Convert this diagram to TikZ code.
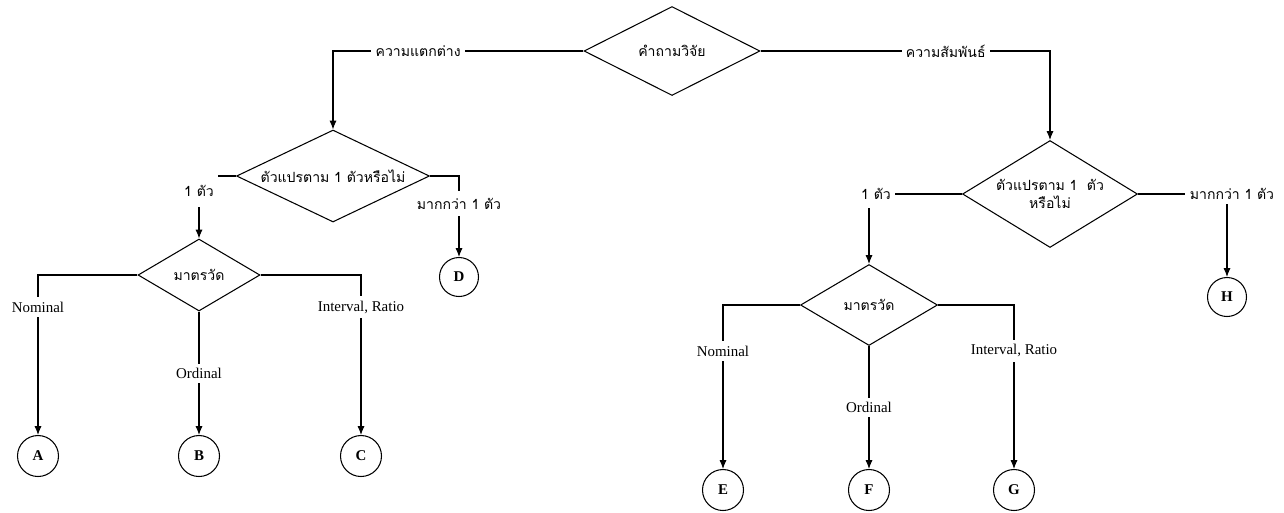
\documentclass[tikz,border=0pt]{standalone}
\usepackage{fontspec}
\setmainfont{Liberation Serif}
\newfontfamily\thaifont[Script=Thai]{Loma}
\usetikzlibrary{shapes.geometric,arrows.meta,positioning}

\begin{document}
\begin{tikzpicture}[
    x=0.02cm, y=-0.02cm,
    font=\fontsize{8.5}{10}\selectfont,
    decision/.style={draw, diamond, aspect=2.1, inner sep=0pt, line width=0.6pt, align=center,
        font=\thaifont\fontsize{8}{10}\selectfont},
    endpt/.style={draw, circle, minimum size=0.82cm, inner sep=0pt, line width=0.6pt,
        font=\bfseries\fontsize{8.5}{10}\selectfont},
    flow/.style={-{Latex[length=5pt,width=4pt]}, line width=0.6pt},
    lbl/.style={fill=white, inner sep=2.5pt},
    thlbl/.style={lbl, font=\thaifont\fontsize{8}{10}\selectfont}
]
\useasboundingbox (0,0) rectangle (1284,512);

% decisions
\node[decision, minimum width=3.52cm, minimum height=1.78cm] (rq) at (672,51) {คำถามวิจัย};
\node[decision, minimum width=3.86cm, minimum height=1.84cm] (dvL) at (333,176) {ตัวแปรตาม 1 ตัวหรือไม่};
\node[decision, aspect=1.6, minimum width=3.5cm, minimum height=2.14cm] (dvR) at (1050,194) {ตัวแปรตาม 1~ ตัว\\หรือไม่};
\node[decision, minimum width=2.44cm, minimum height=1.44cm] (scL) at (199,275) {มาตรวัด};
\node[decision, minimum width=2.74cm, minimum height=1.62cm] (scR) at (869,305) {มาตรวัด};

% end points
\node[endpt] (A) at (38,456) {A};
\node[endpt] (B) at (199,456) {B};
\node[endpt] (C) at (361,456) {C};
\node[endpt, minimum size=0.78cm] (D) at (459,277) {D};
\node[endpt] (E) at (723,490) {E};
\node[endpt] (F) at (869,490) {F};
\node[endpt] (G) at (1014,490) {G};
\node[endpt, minimum size=0.78cm] (H) at (1227,297) {H};

% connectors
\draw[flow] (rq.west) -| node[thlbl, pos=0.33] {ความแตกต่าง} (dvL.north);
\draw[flow] (rq.east) -| node[thlbl, pos=0.32] {ความสัมพันธ์} (dvR.north);

\draw[flow] (dvL.west) -| node[thlbl, pos=0.62, inner ysep=6pt] {1 ตัว} (scL.north);
\draw[flow] (dvL.east) -| node[thlbl, pos=0.67, inner ysep=4pt] {มากกว่า 1 ตัว} (D.north);
\draw[flow] (scL.west) -| node[lbl, pos=0.6] {Nominal} (A.north);
\draw[flow] (scL.south) -- node[lbl] {Ordinal} (B.north);
\draw[flow] (scL.east) -| node[lbl, pos=0.6] {Interval, Ratio} (C.north);

\draw[flow] (dvR.west) -| node[thlbl, pos=0.5, xshift=0.14cm, inner ysep=5pt] {1 ตัว} (scR.north);
\draw[flow] (dvR.east) -| node[thlbl, pos=0.5, xshift=0.1cm] {มากกว่า 1 ตัว} (H.north);
\draw[flow] (scR.west) -| node[lbl, pos=0.64] {Nominal} (E.north);
\draw[flow] (scR.south) -- node[lbl] {Ordinal} (F.north);
\draw[flow] (scR.east) -| node[lbl, pos=0.64] {Interval, Ratio} (G.north);
\end{tikzpicture}
\end{document}
